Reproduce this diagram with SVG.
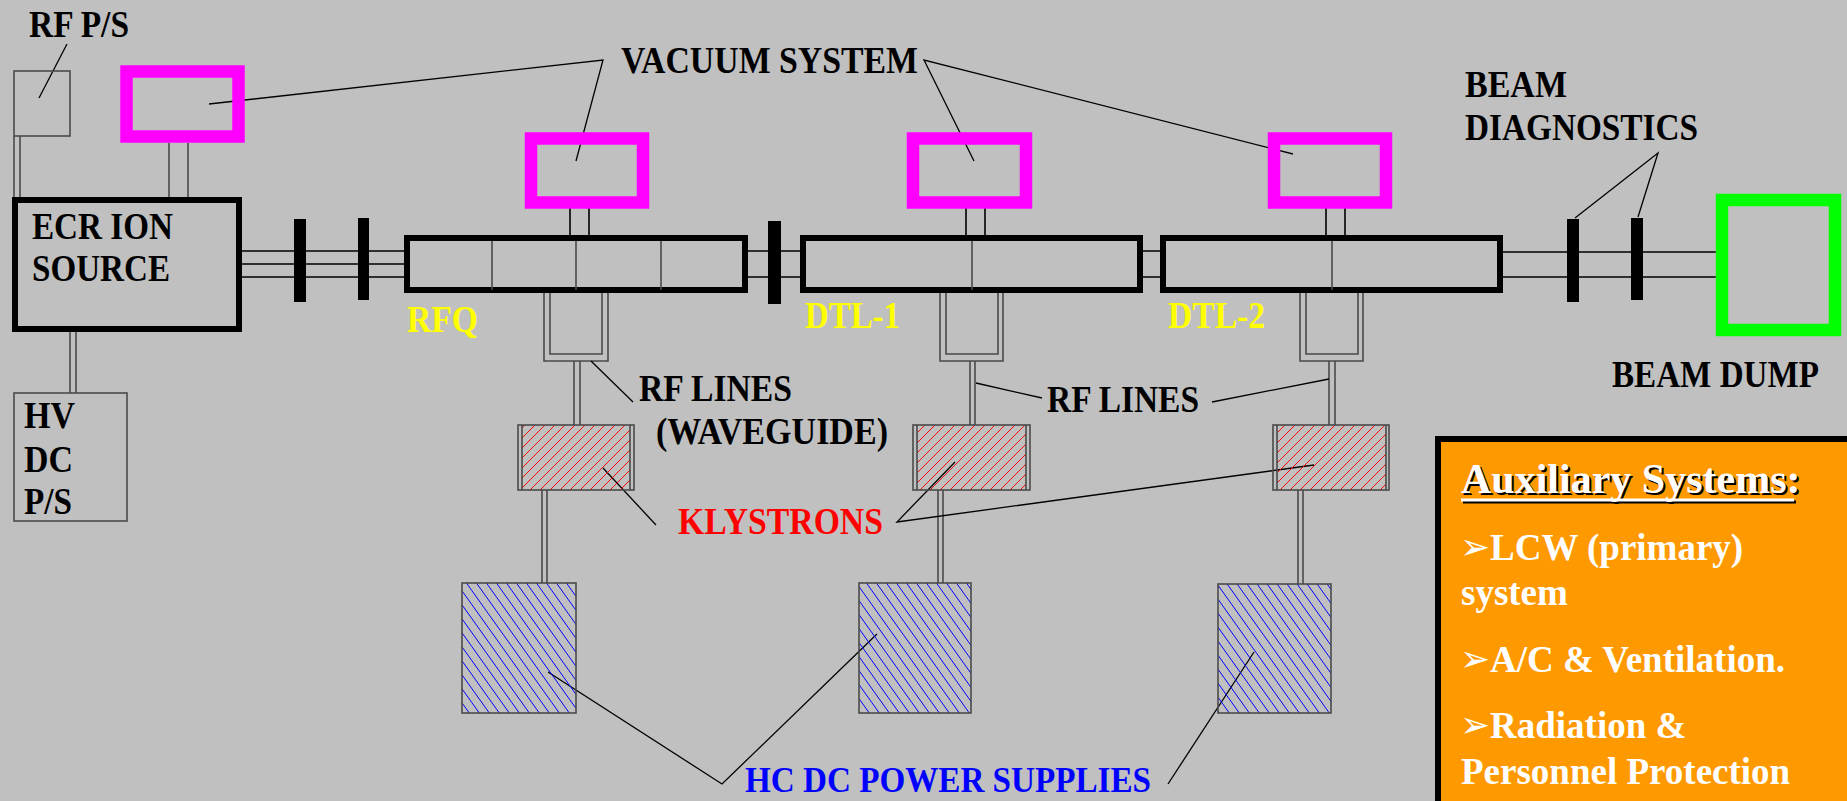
<svg xmlns="http://www.w3.org/2000/svg" width="1847" height="801" viewBox="0 0 1847 801">
<style>
.t{font-family:"Liberation Serif","Times New Roman",serif;font-weight:bold;font-size:37px;fill:#000}
.y{fill:#FFFF00}
.gr{fill:none;stroke:#4a4a4a;stroke-width:1.6}
.ld{fill:none;stroke:#000;stroke-width:1.3}
.bl{fill:none;stroke:#000;stroke-width:1.6}
.cav{fill:none;stroke:#000;stroke-width:6}
.vac{fill:none;stroke:#FF00FF;stroke-width:12.5}
.bar{fill:#000}
.aux{font-family:"Liberation Serif","Times New Roman",serif;font-weight:bold;font-size:37px;fill:#FFFFFF}
.arr{font-family:"DejaVu Sans",sans-serif;font-size:36px;fill:#FFFFFF}
</style>
<defs>
<pattern id="red" patternUnits="userSpaceOnUse" width="10" height="10">
<path d="M0,10 L10,0 M-2,2 L2,-2 M8,12 L12,8" stroke="#FF0000" stroke-width="1"/>
</pattern>
<pattern id="blue" patternUnits="userSpaceOnUse" width="10" height="14">
<path d="M0,0 L10,14 M-10,0 L0,14 M10,0 L20,14" stroke="#0000FF" stroke-width="1"/>
</pattern>
</defs>
<rect x="0" y="0" width="1847" height="801" fill="#C0C0C0"/>

<g id="connectors">
<path class="bl" d="M242,251 H404 M242,264 H404 M242,277 H404"/>
<path class="bl" d="M748,251 H800 M748,277 H800"/>
<path class="bl" d="M1143,251 H1160 M1143,277 H1160"/>
<path class="bl" d="M1503,252 H1716 M1503,277 H1716"/>
<path class="gr" d="M14,136 V197 M20,136 V197"/>
<path class="gr" d="M169,143 V197 M188,143 V197"/>
<path class="gr" d="M70,332 V393 M76,332 V393"/>
<path class="bl" d="M570,203 V235 M589,203 V235"/>
<path class="bl" d="M966,203 V235 M985,203 V235"/>
<path class="bl" d="M1326,203 V235 M1345,203 V235"/>
<path class="gr" d="M544,293 V361 H608 V293 M550,293 V354 H602 V293"/>
<path class="gr" d="M940,293 V361 H1003 V293 M946,293 V354 H998 V293"/>
<path class="gr" d="M1300,293 V361 H1363 V293 M1306,293 V354 H1358 V293"/>
<path class="gr" d="M574,361 V425 M580,361 V425"/>
<path class="gr" d="M970,361 V425 M975,361 V425"/>
<path class="gr" d="M1329,361 V425 M1335,361 V425"/>
<path class="gr" d="M542,490 V583 M547,490 V583"/>
<path class="gr" d="M938,490 V583 M943,490 V583"/>
<path class="gr" d="M1298,490 V584 M1303,490 V584"/>
<path class="ld" d="M67,44 L39,98"/>
<path class="ld" d="M209,104 L603,60 L576,161"/>
<path class="ld" d="M974,161 L924,60 L1293,154"/>
<path class="ld" d="M591,361 L633,402"/>
<path class="ld" d="M976,383 L1042,398"/>
<path class="ld" d="M1212,402 L1329,379"/>
<path class="ld" d="M603,468 L656,525"/>
<path class="ld" d="M955,462 L897,522 L1314,465"/>
<path class="ld" d="M548,672 L722,784 L877,634"/>
<path class="ld" d="M1168,784 L1254,652"/>
<path class="ld" d="M1575,218 L1658,153 L1638,217"/>
</g>

<g id="rf-ps">
<rect class="gr" x="14" y="71" width="56" height="65"/>
<text class="t" x="29" y="37" textLength="100" lengthAdjust="spacingAndGlyphs">RF P/S</text>
</g>

<g id="vacuum-system">
<rect class="vac" x="126.5" y="71.5" width="112" height="65"/>
<rect class="vac" x="531" y="138.5" width="112" height="64"/>
<rect class="vac" x="913" y="138.5" width="113" height="64"/>
<rect class="vac" x="1274" y="138.5" width="112" height="64"/>
<text class="t" x="621" y="73" textLength="297" lengthAdjust="spacingAndGlyphs">VACUUM SYSTEM</text>
</g>

<g id="ecr-ion-source">
<rect x="15" y="200" width="224" height="129" fill="none" stroke="#000" stroke-width="6"/>
<text class="t" x="32" y="239" textLength="141" lengthAdjust="spacingAndGlyphs">ECR ION</text>
<text class="t" x="32" y="281" textLength="138" lengthAdjust="spacingAndGlyphs">SOURCE</text>
</g>

<g id="hv-dc-ps">
<rect class="gr" x="14" y="393" width="113" height="128"/>
<text class="t" x="24" y="428" textLength="51" lengthAdjust="spacingAndGlyphs">HV</text>
<text class="t" x="24" y="472" textLength="49" lengthAdjust="spacingAndGlyphs">DC</text>
<text class="t" x="24" y="514" textLength="48" lengthAdjust="spacingAndGlyphs">P/S</text>
</g>

<g id="beam-bars">
<rect class="bar" x="294" y="219" width="12" height="83"/>
<rect class="bar" x="358" y="218" width="11" height="82"/>
<rect class="bar" x="768" y="221" width="13" height="83"/>
</g>

<g id="rfq">
<rect class="cav" x="407" y="238" width="338" height="52"/>
<path class="gr" d="M492,241 V290 M576,241 V290 M661,241 V290"/>
<text class="t y" x="407" y="332" textLength="71" lengthAdjust="spacingAndGlyphs">RFQ</text>
</g>

<g id="dtl-1">
<rect class="cav" x="803" y="238" width="337" height="52"/>
<path class="gr" d="M972,241 V290"/>
<text class="t y" x="805" y="328" textLength="95" lengthAdjust="spacingAndGlyphs">DTL-1</text>
</g>

<g id="dtl-2">
<rect class="cav" x="1163" y="238" width="337" height="52"/>
<path class="gr" d="M1332,241 V290"/>
<text class="t y" x="1168" y="328" textLength="97" lengthAdjust="spacingAndGlyphs">DTL-2</text>
</g>

<g id="rf-lines">
<text class="t" x="639" y="401" textLength="153" lengthAdjust="spacingAndGlyphs">RF LINES</text>
<text class="t" x="656" y="444" textLength="232" lengthAdjust="spacingAndGlyphs">(WAVEGUIDE)</text>
<text class="t" x="1047" y="412" textLength="152" lengthAdjust="spacingAndGlyphs">RF LINES</text>
</g>

<g id="klystrons">
<rect x="522" y="425" width="108" height="65" fill="url(#red)"/>
<rect class="gr" x="518" y="425" width="116" height="65"/>
<path class="gr" d="M522,425 V490 M630,425 V490"/>
<rect x="917" y="425" width="109" height="65" fill="url(#red)"/>
<rect class="gr" x="913" y="425" width="117" height="65"/>
<path class="gr" d="M917,425 V490 M1026,425 V490"/>
<rect x="1277" y="425" width="109" height="65" fill="url(#red)"/>
<rect class="gr" x="1273" y="425" width="116" height="65"/>
<path class="gr" d="M1277,425 V490 M1386,425 V490"/>
<text class="t" x="678" y="534" textLength="205" lengthAdjust="spacingAndGlyphs" style="fill:#FF0000">KLYSTRONS</text>
</g>

<g id="hc-dc-power-supplies">
<rect x="462" y="583" width="114" height="130" fill="url(#blue)" stroke="#4a4a4a" stroke-width="1.6"/>
<rect x="859" y="583" width="112" height="130" fill="url(#blue)" stroke="#4a4a4a" stroke-width="1.6"/>
<rect x="1218" y="584" width="113" height="129" fill="url(#blue)" stroke="#4a4a4a" stroke-width="1.6"/>
<text class="t" x="745" y="792" textLength="406" lengthAdjust="spacingAndGlyphs" style="fill:#0000FF;font-size:36px">HC DC POWER SUPPLIES</text>
</g>

<g id="beam-diagnostics">
<rect class="bar" x="1567" y="219" width="12" height="83"/>
<rect class="bar" x="1631" y="218" width="12" height="82"/>
<text class="t" x="1465" y="97" textLength="102" lengthAdjust="spacingAndGlyphs">BEAM</text>
<text class="t" x="1465" y="140" textLength="233" lengthAdjust="spacingAndGlyphs">DIAGNOSTICS</text>
</g>

<g id="beam-dump">
<rect x="1722" y="200" width="113" height="130" fill="none" stroke="#00FF00" stroke-width="12.5"/>
<text class="t" x="1612" y="387" textLength="207" lengthAdjust="spacingAndGlyphs">BEAM DUMP</text>
</g>

<g id="auxiliary-systems">
<rect x="1438" y="439" width="420" height="380" fill="#FF9900" stroke="#000" stroke-width="6"/>
<text x="1463" y="495" style="font-family:'Liberation Serif','Times New Roman',serif;font-weight:bold;font-size:42px;fill:#000">Auxiliary Systems:</text>
<line x1="1463" y1="502" x2="1796" y2="502" stroke="#000" stroke-width="3"/>
<text x="1461" y="493" style="font-family:'Liberation Serif','Times New Roman',serif;font-weight:bold;font-size:42px;fill:#FFFFFF">Auxiliary Systems:</text>
<line x1="1461" y1="500" x2="1794" y2="500" stroke="#FFFFFF" stroke-width="3"/>
<text class="arr" x="1460" y="559">➢</text>
<text class="aux" x="1490" y="560">LCW (primary)</text>
<text class="aux" x="1461" y="605">system</text>
<text class="arr" x="1460" y="671">➢</text>
<text class="aux" x="1490" y="672">A/C &amp; Ventilation.</text>
<text class="arr" x="1460" y="737">➢</text>
<text class="aux" x="1490" y="738">Radiation &amp;</text>
<text class="aux" x="1461" y="784">Personnel Protection</text>
</g>
</svg>
